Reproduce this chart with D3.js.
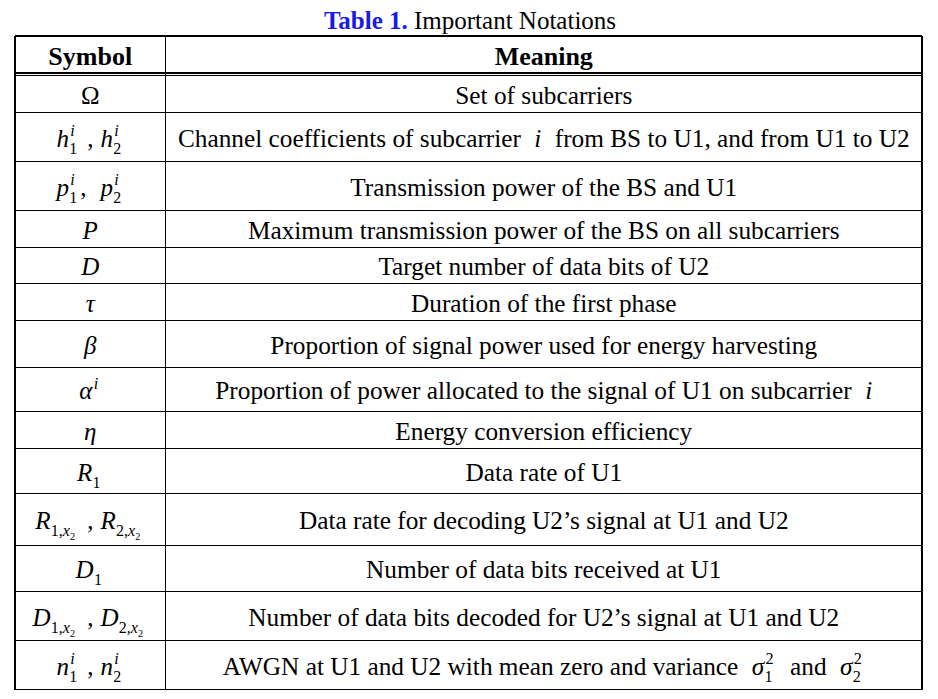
<!DOCTYPE html>
<html>
<head>
<meta charset="utf-8">
<script src="https://cdn.jsdelivr.net/npm/d3@7"></script>
<style>
  body { margin: 0; background: #fff; }
</style>
</head>
<body>
<script>
// table content
const title_label = "Table 1.";
const title_text = "Important Notations";
const header_labels = ["Symbol", "Meaning"];
// symbols are written in a tiny math markup: _x / ^x or _{..} / ^{..}
const symbols = [
    "Ω",
    "h_1^i , h_2^i",
    "p_1^i,  p_2^i",
    "P",
    "D",
    "τ",
    "β",
    "α^i",
    "η",
    "R_1",
    "R_{1,x_2} , R_{2,x_2}",
    "D_1",
    "D_{1,x_2} , D_{2,x_2}",
    "n_1^i , n_2^i"
];
// meanings, inline math between $ $
const meanings = [
    "Set of subcarriers",
    "Channel coefficients of subcarrier $ i $ from BS to U1, and from U1 to U2",
    "Transmission power of the BS and U1",
    "Maximum transmission power of the BS on all subcarriers",
    "Target number of data bits of U2",
    "Duration of the first phase",
    "Proportion of signal power used for energy harvesting",
    "Proportion of power allocated to the signal of U1 on subcarrier $ i$",
    "Energy conversion efficiency",
    "Data rate of U1",
    "Data rate for decoding U2’s signal at U1 and U2",
    "Number of data bits received at U1",
    "Number of data bits decoded for U2’s signal at U1 and U2",
    "AWGN at U1 and U2 with mean zero and variance $ σ_1^2 $ and $ σ_2^2$"
];

// layout
const width = 938, height = 699;
const left = 15, col_split = 165.5, right = 922;
const table_top = 36, header_h = 37, header_gap = 2.5;
const row_heights = [37, 49, 49, 37, 36, 37, 47, 44, 37, 45, 52, 46, 49, 49];
const text_size = 25.3, symbol_size = 25, header_size = 26, title_size = 25;
const title_blue = "#1a1ae6";
const line_w = 1.6;
const serif = '"Liberation Serif", "Times New Roman", Tinos, Times, "DejaVu Serif", serif';

const svg = d3.select("body").append("svg")
    .attr("width", width)
    .attr("height", height)
    .attr("font-family", serif);

// measuring with canvas so the math pieces can be placed
const ctx = document.createElement("canvas").getContext("2d");
function text_width(t, size, italic, bold) {
    ctx.font = (italic ? "italic " : "") + (bold ? "bold " : "") + size + "px " + serif;
    return ctx.measureText(t).width;
}

// parse math markup into atoms {base, sub, sup}
function parse_math(s) {
    var atoms = [];
    var i = 0;
    function read_group() {
        if (s[i] === "{") {
            var depth = 1, j = i + 1;
            while (j < s.length && depth > 0) {
                if (s[j] === "{") depth++;
                if (s[j] === "}") depth--;
                j++;
            }
            var inner = s.slice(i + 1, j - 1);
            i = j;
            return parse_math(inner);
        }
        var c = s[i];
        i++;
        return parse_math(c);
    }
    while (i < s.length) {
        var atom = { base: s[i], sub: null, sup: null };
        i++;
        while (s[i] === "_" || s[i] === "^") {
            var kind = s[i];
            i++;
            if (kind === "_") atom.sub = read_group();
            else atom.sup = read_group();
        }
        atoms.push(atom);
    }
    return atoms;
}

function layout_math(atoms, size, x, y, out) {
    atoms.forEach(function (a) {
        if (a.base === " ") {
            x += size * 0.28;
            return;
        }
        var italic = /[a-zA-Zα-ω]/.test(a.base);
        out.push({ t: a.base, x: x, y: y, size: size, italic: italic });
        x += text_width(a.base, size, italic, false);
        if (a.sub || a.sup) {
            var sx = x;
            var end = x;
            if (a.sub) {
                end = Math.max(end, layout_math(a.sub, size * 0.64, sx + size * 0.01, y + size * 0.28, out));
            }
            if (a.sup) {
                end = Math.max(end, layout_math(a.sup, size * 0.64, sx + (italic ? size * 0.05 : 0), y - size * 0.42, out));
            }
            x = end + size * 0.12;
        }
    });
    return x;
}

// mixed text: plain runs plus $math$ runs
function layout_line(str, size, bold) {
    var out = [];
    var x = 0;
    str.split("$").forEach(function (part, k) {
        if (k % 2 === 1) {
            x = layout_math(parse_math(part), size, x, 0, out);
        } else if (part.length) {
            out.push({ t: part, x: x, y: 0, size: size, italic: false, bold: bold });
            x += text_width(part, size, false, bold);
        }
    });
    return { pieces: out, width: x };
}

function draw_line(g, laid, cx, baseline) {
    var x0 = cx - laid.width / 2;
    g.selectAll("text.piece")
        .data(laid.pieces)
        .join("text")
        .attr("class", "piece")
        .attr("x", function (d) { return x0 + d.x; })
        .attr("y", function (d) { return baseline + d.y; })
        .attr("font-size", function (d) { return d.size; })
        .attr("font-style", function (d) { return d.italic ? "italic" : "normal"; })
        .attr("font-weight", function (d) { return d.bold ? "bold" : "normal"; })
        .style("white-space", "pre")
        .text(function (d) { return d.t; });
}

// row edges
const body_top = table_top + header_h + header_gap;
const edges = [body_top].concat(Array.from(d3.cumsum(row_heights), function (v) { return body_top + v; }));
const rows = symbols.map(function (s, i) {
    return { symbol: s, meaning: meanings[i], y0: edges[i], y1: edges[i + 1] };
});
const table_bottom = edges[edges.length - 1];

const x_center = d3.scaleOrdinal()
    .domain(["symbol", "meaning"])
    .range([(left + col_split) / 2, (col_split + right) / 2]);

// title
const title_g = svg.append("text")
    .attr("x", width / 2 + 1)
    .attr("y", 29)
    .attr("text-anchor", "middle")
    .attr("font-size", title_size);
title_g.append("tspan")
    .attr("font-weight", "bold")
    .style("fill", title_blue)
    .text(title_label + " ");
title_g.append("tspan").text(title_text);

// header
svg.selectAll("text.header")
    .data(header_labels)
    .join("text")
    .attr("class", "header")
    .attr("x", function (d, i) { return x_center(i === 0 ? "symbol" : "meaning"); })
    .attr("y", table_top + header_h / 2 + 10)
    .attr("text-anchor", "middle")
    .attr("font-size", header_size)
    .attr("font-weight", "bold")
    .text(function (d) { return d; });

// body rows
const row_g = svg.selectAll("g.row")
    .data(rows)
    .join("g")
    .attr("class", "row");

row_g.each(function (d) {
    var g = d3.select(this);
    var mid = (d.y0 + d.y1) / 2;
    var sym_g = g.append("g");
    draw_line(sym_g, layout_line("$" + d.symbol + "$", symbol_size, false), x_center("symbol"), mid + 9.5);
    var mean_g = g.append("g");
    draw_line(mean_g, layout_line(d.meaning, text_size, false), x_center("meaning"), mid + 9.5);
});

// grid lines
const lines = svg.append("g")
    .attr("stroke", "#000")
    .attr("stroke-width", line_w)
    .attr("shape-rendering", "crispEdges");

lines.selectAll("line.h")
    .data([table_top].concat(edges.slice(1)))
    .join("line")
    .attr("class", "h")
    .attr("x1", left).attr("x2", right)
    .attr("y1", function (d) { return d; })
    .attr("y2", function (d) { return d; });

// double rule under the header
lines.selectAll("line.dbl")
    .data([table_top + header_h, table_top + header_h + header_gap])
    .join("line")
    .attr("class", "dbl")
    .attr("stroke-width", 1.2)
    .attr("x1", left).attr("x2", right)
    .attr("y1", function (d) { return d; })
    .attr("y2", function (d) { return d; });

lines.selectAll("line.v")
    .data([left, col_split, right])
    .join("line")
    .attr("class", "v")
    .attr("x1", function (d) { return d; })
    .attr("x2", function (d) { return d; })
    .attr("y1", table_top)
    .attr("y2", table_bottom);
</script>
</body>
</html>
